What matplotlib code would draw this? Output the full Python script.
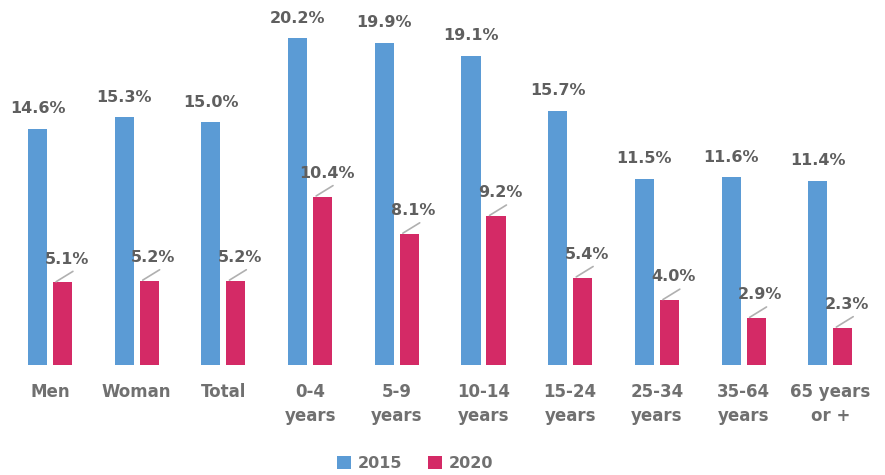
import matplotlib.pyplot as plt
import numpy as np

categories = ['Men', 'Woman', 'Total', '0-4\nyears', '5-9\nyears', '10-14\nyears',
              '15-24\nyears', '25-34\nyears', '35-64\nyears', '65 years\nor +']
y2015 = [14.6, 15.3, 15.0, 20.2, 19.9, 19.1, 15.7, 11.5, 11.6, 11.4]
y2020 = [5.1, 5.2, 5.2, 10.4, 8.1, 9.2, 5.4, 4.0, 2.9, 2.3]

blue = '#5B9BD5'
red = '#D42A66'
txt = '#5f5f5f'
tick_txt = '#707070'

plt.rcParams['font.family'] = ['DejaVu Sans']

fig = plt.figure(figsize=(8.85, 4.75), dpi=100)
ax = fig.add_axes([0, 110 / 475, 1, 356 / 475])

x = np.arange(len(categories))
w = 0.22
off = 0.144
b1 = ax.bar(x - off, y2015, w, color=blue, label='2015')
b2 = ax.bar(x + off, y2020, w, color=red, label='2020')

for xi, v in zip(x, y2015):
    ax.annotate(f'{v:.1f}%', (xi - off, v), xytext=(0, 9), textcoords='offset points',
                ha='center', va='bottom', fontsize=11.5, fontweight='bold', color=txt)

for xi, v in zip(x, y2020):
    ax.annotate('', xy=(xi + off - w * 0.4, v), xytext=(13, 8), textcoords='offset points',
                arrowprops=dict(arrowstyle='-', color='#b0b0b0', lw=1.2,
                                shrinkA=0, shrinkB=1))
    ax.annotate(f'{v:.1f}%', (xi + off, v), xytext=(3, 11.5), textcoords='offset points',
                ha='center', va='bottom', fontsize=11.5, fontweight='bold', color=txt)

ax.set_xlim(-50 / 86.7, 835 / 86.7)
ax.set_ylim(0, 22)
ax.set_xticks(x)
ax.set_xticklabels(categories, fontsize=12, fontweight='bold', color=tick_txt,
                   va='top', linespacing=1.45)
ax.tick_params(axis='x', length=0, pad=13)
ax.set_yticks([])
for s in ax.spines.values():
    s.set_visible(False)

leg = fig.legend(handles=[b1, b2], loc='lower center', bbox_to_anchor=(0.469, -0.022),
                 ncol=2, frameon=False, handlelength=0.9, handleheight=0.9,
                 handletextpad=0.4, columnspacing=1.6,
                 prop={'weight': 'bold', 'size': 11.5})
for t in leg.get_texts():
    t.set_color(tick_txt)

fig.savefig('out.png', dpi=100)
